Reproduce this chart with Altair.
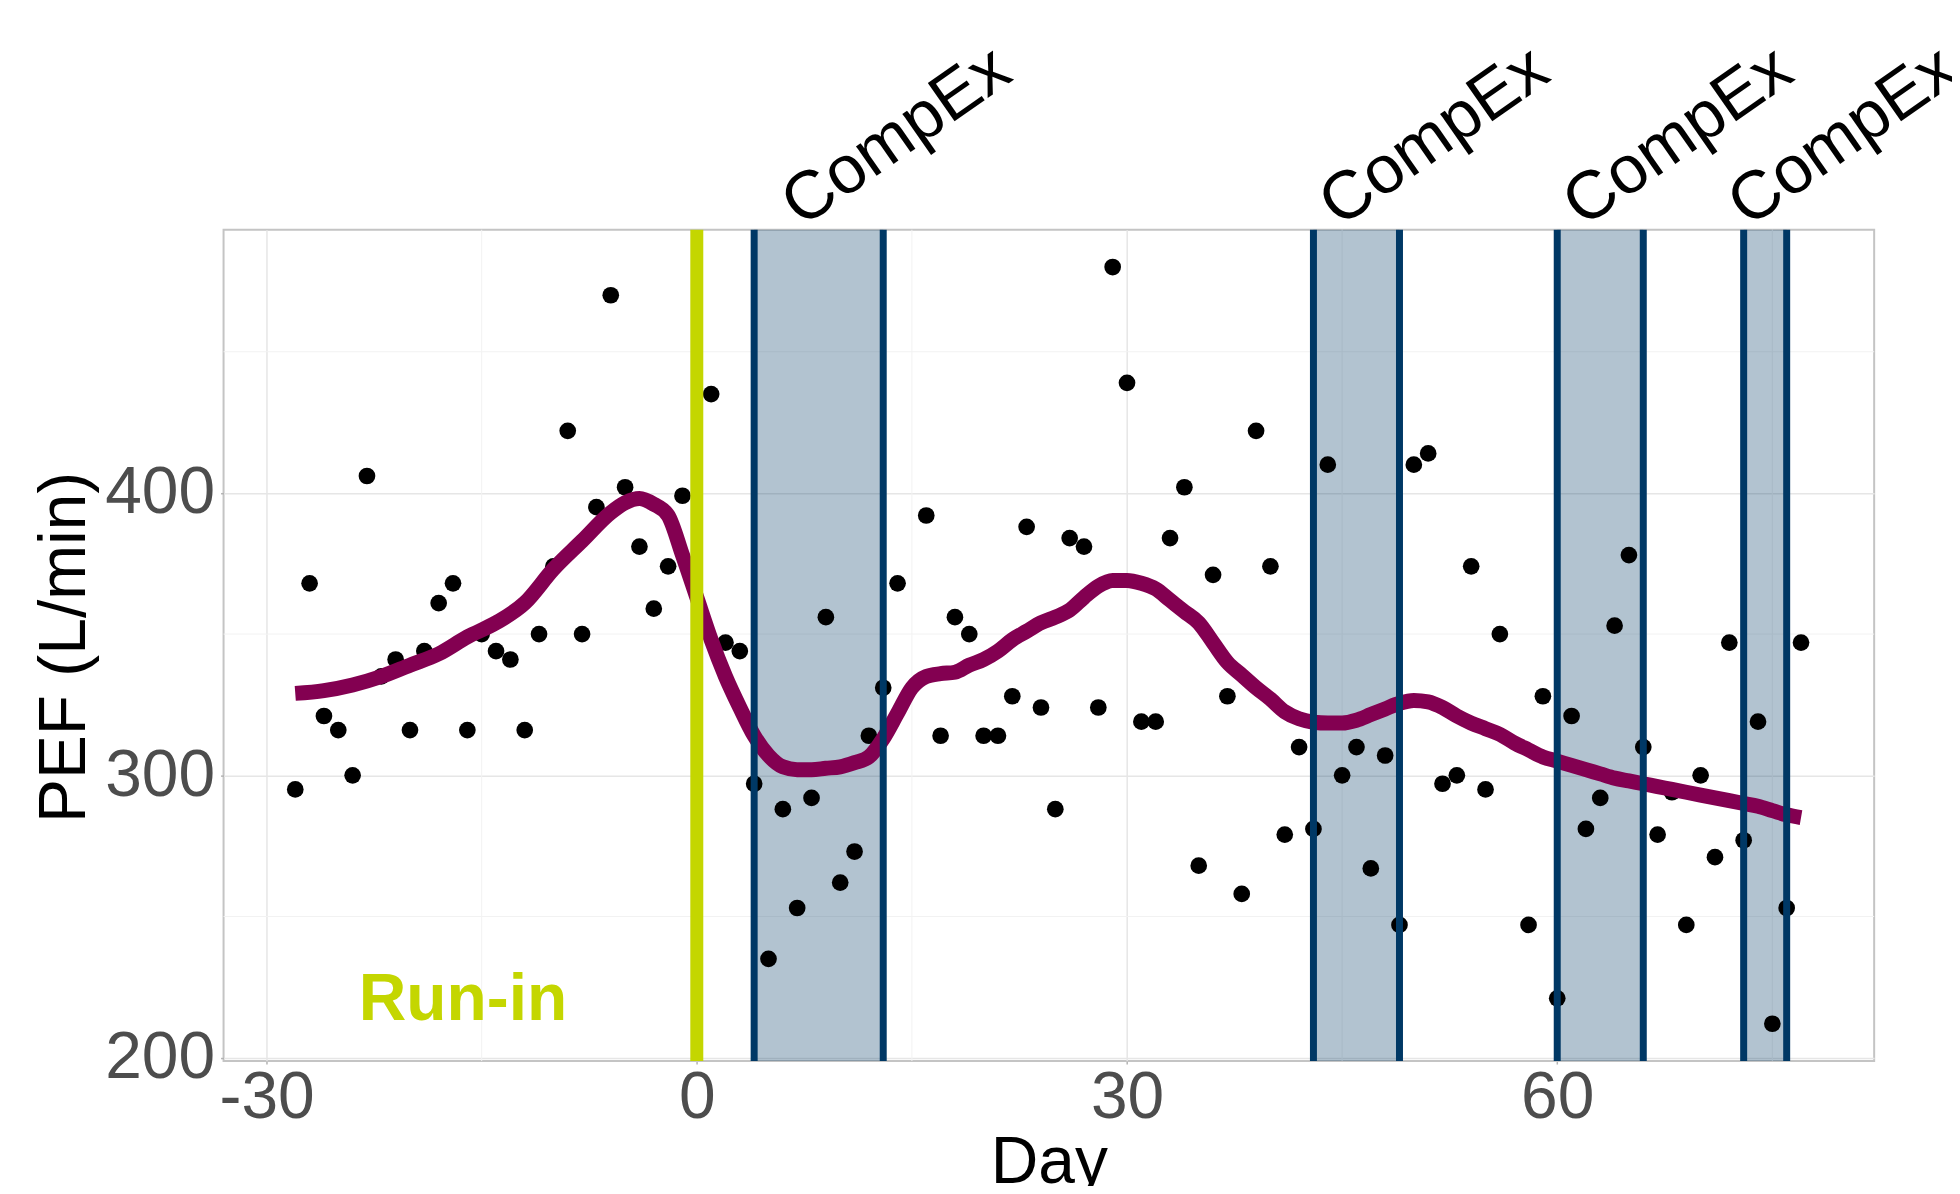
import altair as alt
import pandas as pd

# ---- data ----
day = [-28, -27, -26, -25, -24, -23, -22, -21, -20, -19, -18, -17, -16, -15, -14, -13, -12, -11,
       -10, -9, -8, -7, -6, -5, -4, -3, -2, -1, 1, 2, 3, 4, 5, 6, 7, 8, 9, 10, 11, 12, 13, 14,
       16, 17, 18, 19, 20, 21, 22, 23, 24, 25, 26, 27, 28, 29, 30, 31, 32, 33, 34, 35, 36, 37,
       38, 39, 40, 41, 42, 43, 44, 45, 46, 47, 48, 49, 50, 51, 52, 53, 54, 55, 56, 58, 59, 60,
       61, 62, 63, 64, 65, 66, 67, 68, 69, 70, 71, 72, 73, 74, 75, 76, 77]
pef = [295, 368, 321, 316, 300, 406, 335, 341, 316, 344, 361, 368, 316, 350, 344, 341, 316, 350,
       374, 422, 350, 395, 470, 402, 381, 359, 374, 399, 435, 347, 344, 297, 235, 288, 253, 292,
       356, 262, 273, 314, 331, 368,
       392, 314, 356, 350, 314, 314, 328, 388, 324, 288, 384, 381, 324, 480, 439, 319, 319, 384,
       402, 268, 371, 328, 258, 422, 374, 279, 310, 281, 410, 300, 310, 267, 307, 247, 410, 414,
       297, 300, 374, 295, 350, 247, 328, 221, 321, 281, 292, 353, 378, 310, 279, 294, 247, 300,
       271, 347, 277, 319, 212, 253, 347]

smooth_day = [-28, -26, -24, -22, -20, -18, -16, -14, -12, -10, -8, -6, -5, -4, -3, -2, -1, 0,
              1, 2, 3, 4, 5, 6, 7, 8, 9, 10, 11, 12, 13, 14, 15, 16, 17, 18, 19, 20, 21, 22, 23,
              24, 25, 26, 27, 28, 29, 30, 31, 32, 33, 34, 35, 36, 37, 38, 39, 40, 41, 42, 43, 44,
              45, 46, 47, 48, 49, 50, 51, 52, 53, 54, 55, 56, 57, 58, 59, 60, 61, 62, 63, 64, 65,
              66, 67, 68, 69, 70, 71, 72, 73, 74, 75, 76, 77]
smooth_pef = [329, 330, 332, 335, 339, 343, 349, 354, 361, 373, 383, 393, 396.5, 398, 396, 392,
              378, 363, 348, 335, 324, 314, 307, 303, 302, 302, 302.5, 303, 304.5, 306.5, 313,
              322, 331, 335, 336, 336.5, 339, 341, 344, 348, 351, 354, 356, 358.5, 363, 367, 369,
              369, 368, 366, 362, 358, 354, 347, 340, 335.5, 331, 327, 322.5, 320, 318.8, 318.5,
              318.5, 319.5, 321.5, 323.5, 325.5, 326.5, 326, 324, 321, 318.5, 316.5, 314.5, 311.5,
              309, 306.5, 305, 303.5, 302, 300.5, 299, 298, 297, 296, 295, 294, 293, 292, 291,
              290, 289, 287.5, 286, 285]

compex_start = [4, 43, 60, 73]
compex_end = [13, 49, 66, 76]
compex_text = ["CompEx", "CompEx", "CompEx", "CompEx"]
runin_day = [0]
runin_text = ["Run-in"]

x_ticks = [-30, 0, 30, 60]
x_minor = [-15, 15, 45, 75]
y_ticks = [200, 300, 400]
y_minor = [250, 350, 450]

X_DOMAIN = [-33.0, 82.1]
Y_DOMAIN = [198.8, 493.2]
RUNIN_LABEL_DAY = -16.3
RUNIN_LABEL_PEF = 213.5

# ---- styles ----
FONT = "Liberation Sans"
NAVY = "#003865"
LIME = "#C4D600"
MULBERRY = "#830051"
W, H = 1654, 833

points_df = pd.DataFrame({"day": day, "pef": pef})
smooth_df = pd.DataFrame({"day": smooth_day, "pef": smooth_pef})
bands_df = pd.DataFrame({"start": compex_start, "end": compex_end, "label": compex_text})
edges_df = pd.DataFrame({"day": compex_start + compex_end})
runin_df = pd.DataFrame({"day": runin_day})
runin_lab_df = pd.DataFrame({"label": runin_text})

xscale = alt.Scale(domain=X_DOMAIN, nice=False, zero=False)
yscale = alt.Scale(domain=Y_DOMAIN, nice=False, zero=False)

x_axis = alt.Axis(values=x_ticks, grid=True, gridColor="#e6e6e6", gridWidth=1.5,
                  domain=False, ticks=True, tickColor="#b3b3b3", tickSize=3, tickWidth=1.5,
                  labelFontSize=66, labelFont=FONT, labelColor="#4d4d4d", labelPadding=2,
                  labelFlush=False, labelOverlap=False, labelBound=False,
                  labelExpr="'' + datum.value",
                  title="Day", titleFont=FONT, titleFontSize=66, titleFontWeight="normal",
                  titleColor="black", titleBaseline="alphabetic", titleAlign="center",
                  titleX=W / 2, titleY=122)
y_axis = alt.Axis(values=y_ticks, grid=True, gridColor="#e6e6e6", gridWidth=1.5,
                  domain=False, ticks=True, tickColor="#b3b3b3", tickSize=3, tickWidth=1.5,
                  labelFontSize=66, labelFont=FONT, labelColor="#4d4d4d", labelPadding=6,
                  labelFlush=False, labelOverlap=False, labelBound=False,
                  labelExpr="'' + datum.value",
                  title="PEF (L/min)", titleFont=FONT, titleFontSize=66,
                  titleFontWeight="normal", titleColor="black", titleAngle=270,
                  titleBaseline="alphabetic", titleAlign="center", titleX=-139, titleY=418)

minor_x = alt.Chart(pd.DataFrame({"day": x_minor})).mark_rule(
    color="#f2f2f2", strokeWidth=1).encode(x=alt.X("day:Q", scale=xscale, axis=x_axis))
minor_y = alt.Chart(pd.DataFrame({"pef": y_minor})).mark_rule(
    color="#f2f2f2", strokeWidth=1).encode(y=alt.Y("pef:Q", scale=yscale, axis=y_axis))

bands = alt.Chart(bands_df).mark_rect(color=NAVY, opacity=0.3).encode(
    x=alt.X("start:Q", scale=xscale), x2="end:Q")

pts = alt.Chart(points_df).mark_circle(color="black", opacity=1, size=280).encode(
    x=alt.X("day:Q", scale=xscale), y=alt.Y("pef:Q", scale=yscale))

smooth = alt.Chart(smooth_df).mark_line(color=MULBERRY, strokeWidth=15,
                                        interpolate="monotone").encode(
    x=alt.X("day:Q", scale=xscale), y=alt.Y("pef:Q", scale=yscale))

edges = alt.Chart(edges_df).mark_rule(color=NAVY, strokeWidth=7).encode(
    x=alt.X("day:Q", scale=xscale))

runin = alt.Chart(runin_df).mark_rule(color=LIME, strokeWidth=13).encode(
    x=alt.X("day:Q", scale=xscale))

runin_label = alt.Chart(runin_lab_df).mark_text(
    font=FONT, fontSize=66, fontWeight="bold", color=LIME, align="center",
    baseline="alphabetic").encode(
    x=alt.datum(RUNIN_LABEL_DAY, scale=xscale), y=alt.datum(RUNIN_LABEL_PEF, scale=yscale),
    text="label:N")

compex_labels = alt.Chart(bands_df).transform_calculate(
    mid="(datum.start + datum.end) / 2").mark_text(
    font=FONT, fontSize=68, color="black", align="left", baseline="alphabetic",
    angle=325, dx=-13, dy=-11).encode(
    x=alt.X("mid:Q", scale=xscale), y=alt.datum(Y_DOMAIN[1], scale=yscale), text="label:N")

chart = alt.layer(minor_x, minor_y, bands, pts, smooth, edges, runin, runin_label,
                  compex_labels).properties(
    width=W, height=H,
    autosize=alt.AutoSizeParams(type="none"),
    padding={"left": 216, "top": 221, "right": 78, "bottom": 124},
    background="white",
).configure_view(stroke="#c4c4c4", strokeWidth=2)

chart.save("out.html", embed_options={"renderer": "svg", "actions": False})
